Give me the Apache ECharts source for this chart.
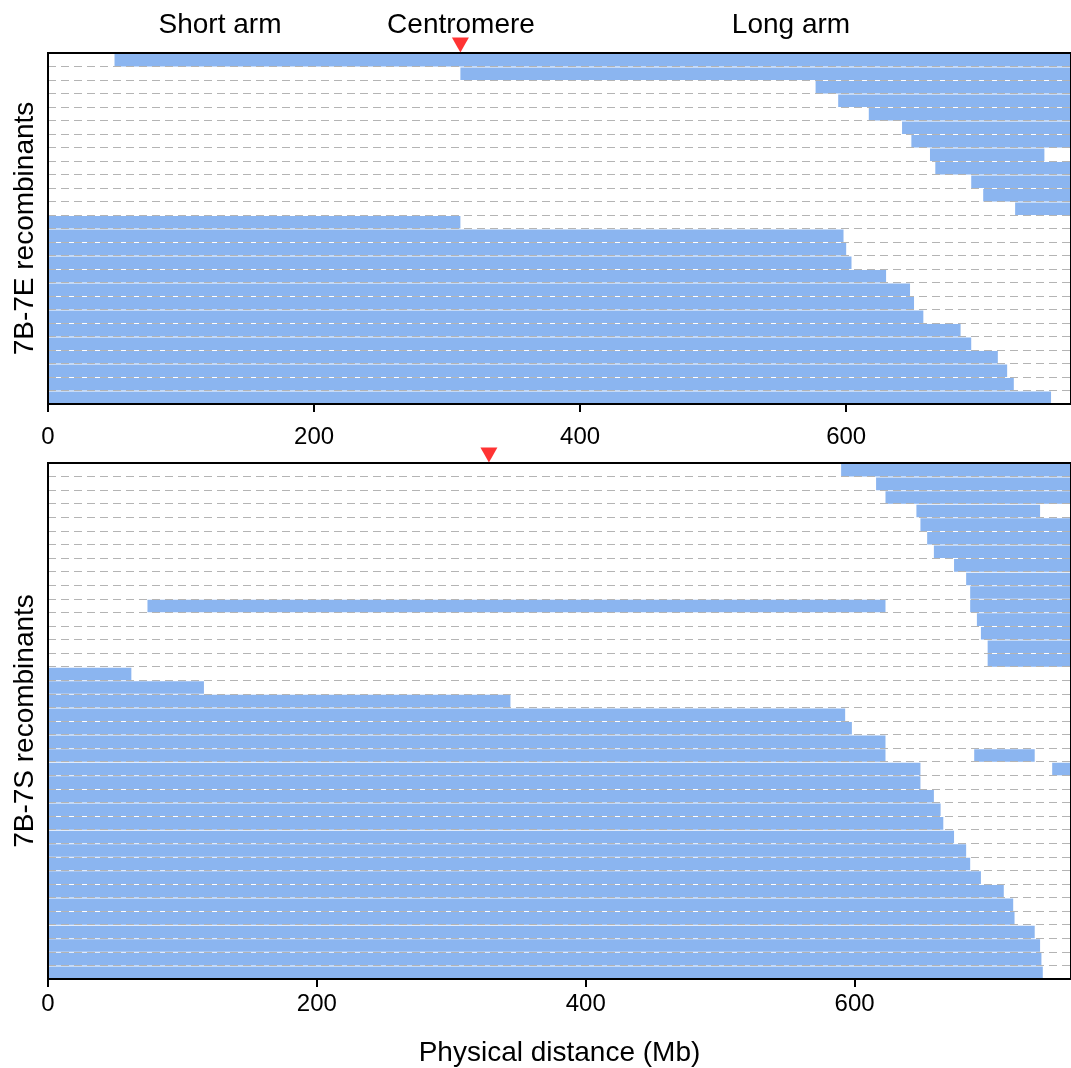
<!DOCTYPE html>
<html>
<head>
<meta charset="utf-8">
<script src="https://cdn.jsdelivr.net/npm/echarts@6/dist/echarts.min.js"></script>
<style>
html,body{margin:0;padding:0;background:#fff;}
#chart{width:1071px;height:1068px;}
</style>
</head>
<body>
<div id="chart"></div>
<script>
// ---------- data ----------
const TOP_LEN = 769;      // 7B-7E panel axis end (Mb)
const BOT_LEN = 761;      // 7B-7S panel axis end (Mb)
const topCentromere = [310];
const botCentromere = [328];
const xTicks = [0, 200, 400, 600];

const topRowCount = 26;
const topRows   = [0, 1, 2, 3, 4, 5, 6, 7, 8, 9, 10, 11, 12, 13, 14, 15, 16, 17, 18, 19, 20, 21, 22, 23, 24, 25];
const topStarts = [50, 310, 577, 594, 617, 642, 649, 663, 667, 694, 703, 727, 0, 0, 0, 0, 0, 0, 0, 0, 0, 0, 0, 0, 0, 0];
const topEnds   = [TOP_LEN, TOP_LEN, TOP_LEN, TOP_LEN, TOP_LEN, TOP_LEN, TOP_LEN, 749, TOP_LEN, TOP_LEN, TOP_LEN, TOP_LEN,
                   310, 598, 600, 604, 630, 648, 651, 658, 686, 694, 714, 721, 726, 754];

const botRowCount = 38;
const botRows   = [0, 1, 2, 3, 4, 5, 6, 7, 8, 9, 10, 10, 11, 12, 13, 14, 15, 16, 17, 18, 19, 20, 21, 21, 22, 22,
                   23, 24, 25, 26, 27, 28, 29, 30, 31, 32, 33, 34, 35, 36, 37];
const botStarts = [590, 616, 623, 646, 649, 654, 659, 674, 683, 686, 74, 686, 691, 694, 699, 699, 0, 0, 0, 0, 0, 0, 0, 689, 0, 747,
                   0, 0, 0, 0, 0, 0, 0, 0, 0, 0, 0, 0, 0, 0, 0];
const botEnds   = [BOT_LEN, BOT_LEN, BOT_LEN, 738, BOT_LEN, BOT_LEN, BOT_LEN, BOT_LEN, BOT_LEN, BOT_LEN, 623, BOT_LEN, BOT_LEN, BOT_LEN, BOT_LEN, BOT_LEN,
                   62, 116, 344, 593, 598, 623, 623, 734, 649, BOT_LEN,
                   649, 659, 664, 666, 674, 683, 686, 694, 711, 718, 719, 734, 738, 739, 740];

// ---------- build ----------
const BLUE = '#8bb5f0';
const FONT = 'Liberation Sans, Arial, Helvetica, sans-serif';

function segs(rows, starts, ends) {
  return rows.map((r, i) => [r, starts[i], ends[i]]);
}
function cats(n) { return Array.from({length: n}, (_, i) => String(i)); }

function renderSeg(params, api) {
  const row = api.value(0);
  const p0 = api.coord([api.value(1), row]);
  const p1 = api.coord([api.value(2), row]);
  const h = api.size([0, 1])[1];
  return {
    type: 'rect',
    shape: { x: p0[0], y: p0[1] - h / 2 + 1, width: p1[0] - p0[0], height: h - 1 },
    style: { fill: BLUE }
  };
}

function xAxisCfg(idx, max, margin, name) {
  const a = {
    type: 'value', gridIndex: idx, min: 0, max: max, interval: 200, z: 4,
    axisLine: { show: true, lineStyle: { color: '#000', width: 2 } },
    axisTick: { show: true, length: 8, lineStyle: { color: '#000', width: 2 } },
    axisLabel: { show: true, fontSize: 24, color: '#000', fontFamily: FONT, margin: margin, showMaxLabel: false,
                 formatter: v => (xTicks.indexOf(v) >= 0 ? String(v) : '') },
    splitLine: { show: false }
  };
  if (name) {
    a.name = name; a.nameLocation = 'middle'; a.nameGap = 60;
    a.nameTextStyle = { fontSize: 28, color: '#000', fontFamily: FONT };
  }
  return a;
}
function yAxisCfg(idx, n, name) {
  return {
    type: 'category', gridIndex: idx, data: cats(n), inverse: true, z: 3,
    axisLine: { show: false }, axisTick: { show: false }, axisLabel: { show: false, interval: 0 },
    splitLine: { show: true, interval: 0, lineStyle: { color: '#b4b4b4', width: 1, type: [8, 5] } },
    name: name, nameLocation: 'middle', nameGap: 9,
    nameTextStyle: { fontSize: 28, color: '#000', fontFamily: FONT }
  };
}

const chart = echarts.init(document.getElementById('chart'), null, { renderer: 'canvas' });
const topRowH = 351 / topRowCount;
const botRowH = 517 / botRowCount;

chart.setOption({
  animation: false,
  backgroundColor: '#fff',
  grid: [
    { left: 48, top: 53, right: -2, height: 351, show: true, z: 5, borderColor: '#000', borderWidth: 2, backgroundColor: 'transparent' },
    { left: 48, top: 463, right: -2, height: 517, show: true, z: 5, borderColor: '#000', borderWidth: 2, backgroundColor: 'transparent' }
  ],
  xAxis: [xAxisCfg(0, TOP_LEN, 21, null), xAxisCfg(1, BOT_LEN, 13, 'Physical distance (Mb)')],
  yAxis: [yAxisCfg(0, topRowCount, '7B-7E recombinants'), yAxisCfg(1, botRowCount, '7B-7S recombinants')],
  graphic: [
    { type: 'text', x: 220, y: 25, style: { text: 'Short arm', fontSize: 28, fontFamily: FONT, fill: '#000', textAlign: 'center', textVerticalAlign: 'middle' } },
    { type: 'text', x: 461, y: 25, style: { text: 'Centromere', fontSize: 28, fontFamily: FONT, fill: '#000', textAlign: 'center', textVerticalAlign: 'middle' } },
    { type: 'text', x: 791, y: 25, style: { text: 'Long arm', fontSize: 28, fontFamily: FONT, fill: '#000', textAlign: 'center', textVerticalAlign: 'middle' } }
  ],
  series: [
    { type: 'custom', xAxisIndex: 0, yAxisIndex: 0, renderItem: renderSeg, encode: { x: [1, 2], y: 0 },
      data: segs(topRows, topStarts, topEnds), clip: true, z: 2 },
    { type: 'custom', xAxisIndex: 1, yAxisIndex: 1, renderItem: renderSeg, encode: { x: [1, 2], y: 0 },
      data: segs(botRows, botStarts, botEnds), clip: true, z: 2 },
    { type: 'scatter', xAxisIndex: 0, yAxisIndex: 0, symbol: 'triangle', symbolRotate: 180, symbolSize: [17, 15],
      symbolOffset: [0, -(topRowH / 2 + 8)], itemStyle: { color: '#ff0000' }, clip: false, silent: true, z: 6,
      data: topCentromere.map(v => [v, 0]) },
    { type: 'scatter', xAxisIndex: 1, yAxisIndex: 1, symbol: 'triangle', symbolRotate: 180, symbolSize: [17, 15],
      symbolOffset: [0, -(botRowH / 2 + 8)], itemStyle: { color: '#ff0000' }, clip: false, silent: true, z: 6,
      data: botCentromere.map(v => [v, 0]) }
  ]
});
</script>
</body>
</html>
